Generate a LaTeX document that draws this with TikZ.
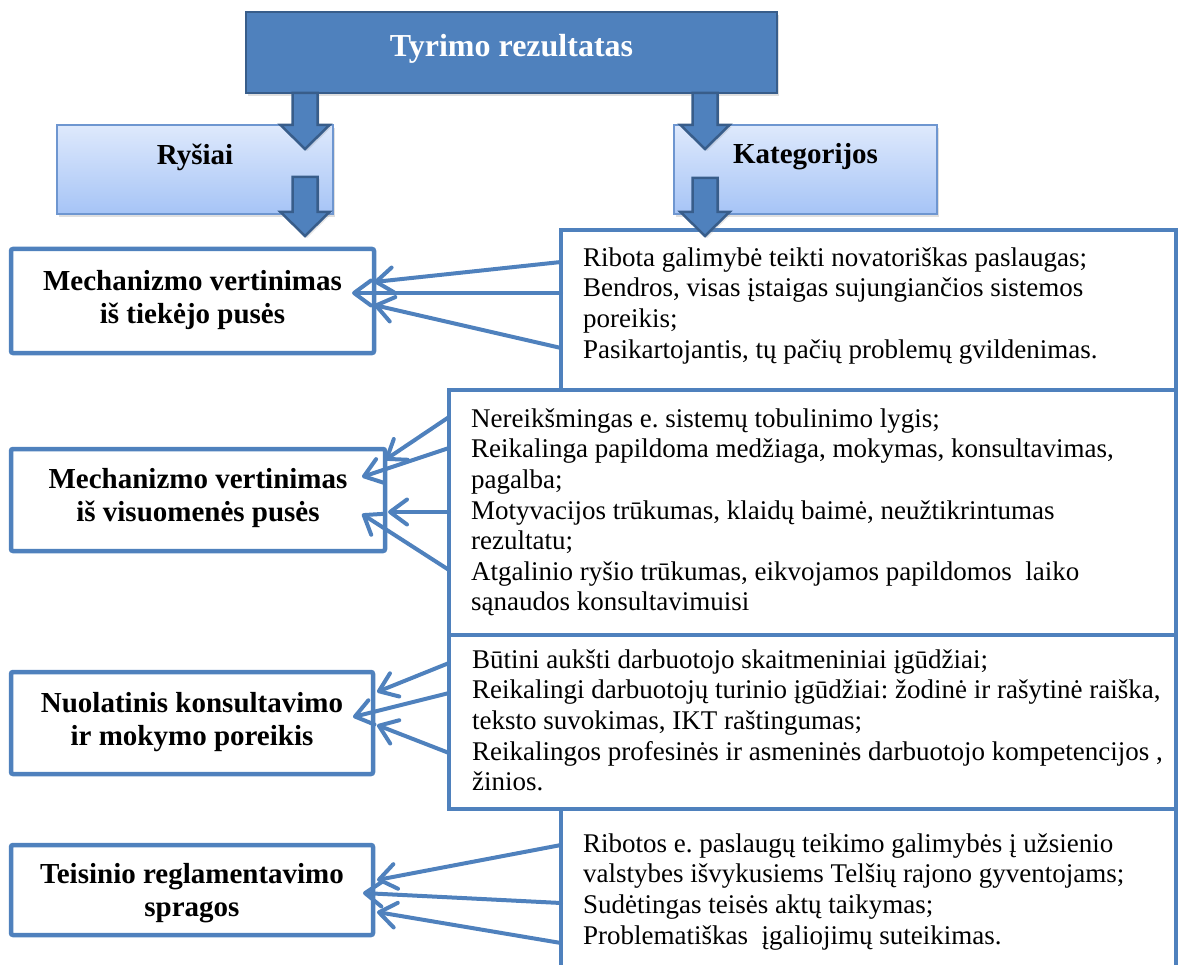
\documentclass[tikz,border=0pt]{standalone}
\usepackage{fontspec}
\setmainfont{Liberation Serif}
\usetikzlibrary{arrows.meta,shadows,calc}
\definecolor{cmain}{RGB}{79,129,189}
\definecolor{cdark}{RGB}{56,93,138}
\definecolor{gtop}{RGB}{222,233,252}
\definecolor{gbot}{RGB}{166,196,246}
\definecolor{gline}{RGB}{110,150,208}
\newcommand\blkarrow[2]{\draw[blk] ($(#1)+(-12.5,0)$) -- ($(#1)+(12.5,0)$) -- ($(#2)+(12.5,-24)$) -- ($(#2)+(24.5,-24)$) -- (#2) -- ($(#2)+(-24.5,-24)$) -- ($(#2)+(-12.5,-24)$) -- cycle;}
\frenchspacing
\begin{document}
\begin{tikzpicture}[x=1pt,y=-1pt,
  titlebox/.style={draw=cdark, line width=2.5pt, fill=cmain, inner sep=0, outer sep=0,
    drop shadow={opacity=0.25,shadow xshift=2pt,shadow yshift=-3pt}},
  lightbox/.style={draw=gline, line width=1.2pt, top color=gtop, bottom color=gbot, inner sep=0, outer sep=0,
    drop shadow={opacity=0.25,shadow xshift=2pt,shadow yshift=-3pt}},
  lbox/.style={draw=cmain, line width=4.5pt, fill=white, rounded corners=2pt, inner sep=0, outer sep=0},
  rbox/.style={draw=cmain, line width=4pt, fill=white, inner sep=0, outer sep=0},
  ltext/.style={font=\fontsize{29}{33}\selectfont\bfseries, align=center, anchor=north, inner sep=0},
  rtext/.style={font=\fontsize{27}{30.6}\selectfont, align=left, anchor=north west, inner sep=0},
  htext/.style={font=\fontsize{29}{33}\selectfont\bfseries, anchor=base, inner sep=0},
  blk/.style={fill=cmain, draw=cdark, line width=2.5pt, line join=miter,
    drop shadow={opacity=0.2,shadow xshift=2pt,shadow yshift=-2pt}},
  conn/.style={draw=cmain, line width=4pt, line cap=round, -{Straight Barb[length=17pt,width=25pt,round]}}
]
\useasboundingbox (0,0) rectangle (1182,965);

% header boxes
\node[titlebox, minimum width=531pt, minimum height=81pt] (top) at (511.5,52.5) {};
\node[lightbox, minimum width=276pt, minimum height=89pt] (rys) at (195,169.5) {};
\node[lightbox, minimum width=263pt, minimum height=89pt] (kat) at (805.5,169.5) {};

% right boxes
\node[rbox, minimum width=615pt, minimum height=160pt] (r1) at (868.5,310) {};
\node[rbox, minimum width=727pt, minimum height=245pt] (r2) at (812.5,512.5) {};
\node[rbox, minimum width=727pt, minimum height=174pt] (r3) at (812.5,722) {};
\node[rbox, minimum width=615pt, minimum height=200pt] (r4) at (868.5,909) {};

% left boxes
\node[lbox, minimum width=363pt, minimum height=104pt] (l1) at (192.5,301) {};
\node[lbox, minimum width=374pt, minimum height=102pt] (l2) at (198,500) {};
\node[lbox, minimum width=362pt, minimum height=102pt] (l3) at (192,723) {};
\node[lbox, minimum width=362pt, minimum height=90pt] (l4) at (192,890) {};

% block arrows
\coordinate (b1s) at (305,93);  \coordinate (b1t) at (305,149);
\coordinate (b2s) at (305,177); \coordinate (b2t) at (305,236);
\coordinate (b3s) at (705,93);  \coordinate (b3t) at (705,149);
\coordinate (b4s) at (705,178); \coordinate (b4t) at (705,236);
\blkarrow{b1s}{b1t}
\blkarrow{b2s}{b2t}
\blkarrow{b3s}{b3t}
\blkarrow{b4s}{b4t}

% connectors
\draw[conn] (r1.west|-0,262) -- (l1.east|-0,282);
\draw[conn] (r1.west|-0,293) -- ($(l1.east|-0,293)+(-22,0)$);
\draw[conn] (r1.west|-0,348) -- (l1.east|-0,305);

\draw[conn] (r2.west|-0,417) -- (l2.east|-0,460);
\draw[conn] (r2.west|-0,448) -- ($(l2.east|-0,477)+(-23,0)$);
\draw[conn] (r2.west|-0,512) -- ($(l2.east|-0,512)+(3,0)$);
\draw[conn] (r2.west|-0,570) -- ($(l2.east|-0,514)+(-23,0)$);

\draw[conn] (r3.west|-0,663) -- ($(l3.east|-0,692)+(4,0)$);
\draw[conn] (r3.west|-0,693) -- ($(l3.east|-0,717)+(-20,0)$);
\draw[conn] (r3.west|-0,753) -- ($(l3.east|-0,725)+(4,0)$);

\draw[conn] (r4.west|-0,845) -- ($(l4.east|-0,880)+(4,0)$);
\draw[conn] (r4.west|-0,903) -- ($(l4.east|-0,893)+(-10,0)$);
\draw[conn] (r4.west|-0,943) -- ($(l4.east|-0,912)+(4,0)$);

% texts
\node[font=\fontsize{32}{36}\selectfont\bfseries, text=white, anchor=base, inner sep=0] (toptxt) at (511.5,57) {Tyrimo rezultatas};
\node[htext] (rystxt) at (195,165) {Ryšiai};
\node[htext] (kattxt) at (805.5,164) {Kategorijos};

\node[ltext] (l1txt) at (192.5,266.9) {\strut Mechanizmo vertinimas\\iš tiekėjo pusės};
\node[ltext] (l2txt) at (198,464.9) {\strut Mechanizmo vertinimas\\iš visuomenės pusės};
\node[ltext] (l3txt) at (192,688.9) {\strut Nuolatinis konsultavimo\\ir mokymo poreikis};
\node[ltext] (l4txt) at (192,859.9) {\strut Teisinio reglamentavimo\\spragos};

\node[rtext] (r1txt) at (583,244.6) {\strut Ribota galimybė teikti novatoriškas paslaugas;\\Bendros, visas įstaigas sujungiančios sistemos\\poreikis;\\Pasikartojantis, tų pačių problemų gvildenimas.};
\node[rtext] (r2txt) at (471,405.6) {\strut Nereikšmingas e. sistemų tobulinimo lygis;\\Reikalinga papildoma medžiaga, mokymas, konsultavimas,\\pagalba;\\Motyvacijos trūkumas, klaidų baimė, neužtikrintumas\\rezultatu;\\Atgalinio ryšio trūkumas, eikvojamos papildomos\ \ laiko\\sąnaudos konsultavimuisi};
\node[rtext] (r3txt) at (472,646.6) {\strut Būtini aukšti darbuotojo skaitmeniniai įgūdžiai;\\Reikalingi darbuotojų turinio įgūdžiai: žodinė ir rašytinė raiška,\\teksto suvokimas, IKT raštingumas;\\Reikalingos profesinės ir asmeninės darbuotojo kompetencijos ,\\žinios.};
\node[rtext] (r4txt) at (583,830.6) {\strut Ribotos e. paslaugų teikimo galimybės į užsienio\\valstybes išvykusiems Telšių rajono gyventojams;\\Sudėtingas teisės aktų taikymas;\\Problematiškas\ \ įgaliojimų suteikimas.};
\end{tikzpicture}
\end{document}
